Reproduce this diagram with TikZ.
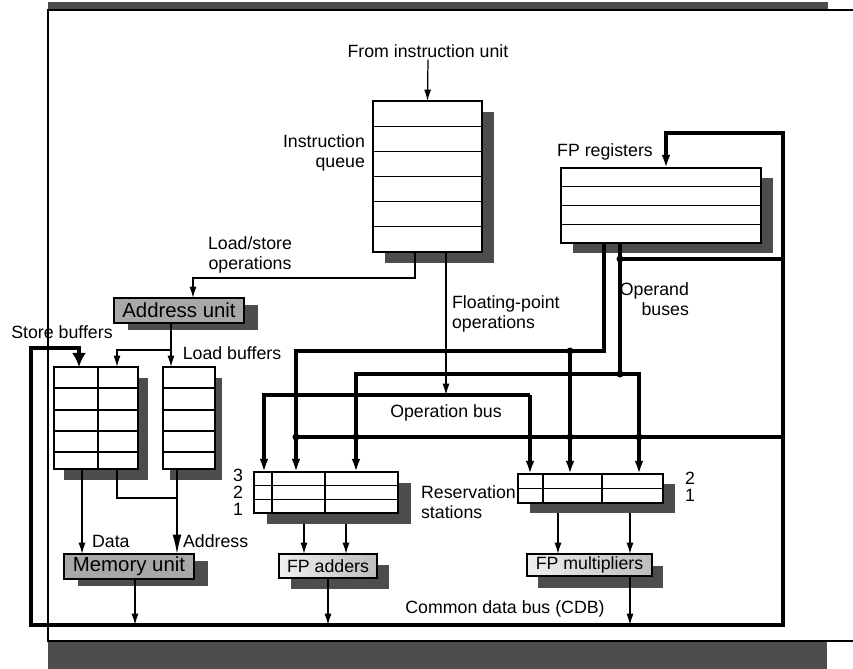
\documentclass[tikz,border=0pt]{standalone}
\usepackage{fontspec}
\setmainfont{Liberation Sans}
\usepackage{tikz}
\usetikzlibrary{calc,arrows.meta,shadows}
\definecolor{hpShadow}{RGB}{77,77,77}
\definecolor{hpUnit}{RGB}{168,168,168}

\begin{document}
\begin{tikzpicture}[x=0.02cm,y=-0.02cm,
    font=\fontsize{10.1}{11.6}\selectfont,
    boxsize/.style 2 args={minimum width=#1*0.02cm, minimum height=#2*0.02cm},
    boxshadow/.style 2 args={drop shadow={shadow xshift=#1*0.02cm, shadow yshift=-#2*0.02cm, fill=hpShadow, opacity=1}},
    unitbox/.style={draw, fill=white, line width=0.7pt, inner sep=0pt, outer sep=0pt},
    grayunit/.style={unitbox, fill=hpUnit, font=\fontsize{11.6}{13}\selectfont},
    fpunit/.style={unitbox, left color=black!6, right color=black!26},
    lbl/.style={inner sep=1pt},
    wire/.style={line width=0.7pt},
    bus/.style={line width=1.75pt},
    tipS/.style={-{Latex[length=6.5pt,width=4pt]}},
    tipB/.style={-{Latex[length=7.5pt,width=5pt]}},
    dot/.style={fill, circle, inner sep=0pt, minimum size=4pt}
  ]
  \useasboundingbox (0,0) rectangle (853,669);

  % page frame
  \fill[hpShadow] (48,2) rectangle (828,10);
  \draw[wire] (853,10) -- (48,10) -- (48,641) -- (853,641);
  \fill[hpShadow] (48,642) rectangle (827,669);

  % units
  \node[unitbox, boxsize={109}{151}, boxshadow={12}{11}] (iq) at (427.5,176.5) {};
  \node[unitbox, boxsize={200}{75}, boxshadow={12}{10}] (fpr) at (661,205.5) {};
  \node[grayunit, boxsize={130}{25}, boxshadow={14}{7}] (au) at (179,310.5) {Address unit};
  \node[unitbox, boxsize={84}{102}, boxshadow={10}{11}] (sb) at (96,418) {};
  \node[unitbox, boxsize={52}{102}, boxshadow={7}{11}] (lb) at (189,418) {};
  \node[grayunit, boxsize={130}{25}, boxshadow={14}{7}] (mu) at (129,566.5) {Memory unit};
  \node[unitbox, boxsize={144}{41}, boxshadow={13}{11}] (rsa) at (326,492.5) {};
  \node[unitbox, boxsize={145}{29}, boxshadow={12}{10}] (rsm) at (590.5,488.5) {};
  \node[fpunit, boxsize={98}{24}, boxshadow={12}{11}] (fpa) at (328,566) {FP adders};
  \node[fpunit, boxsize={125}{22}, boxshadow={11}{12}] (fpm) at (589.5,565) {FP multipliers};

  % rows and columns
  \foreach \k in {1,...,5}
    \draw[wire] ($(iq.north west)!\k/6!(iq.south west)$) -- ($(iq.north east)!\k/6!(iq.south east)$);
  \foreach \k in {1,2,3}
    \draw[wire] ($(fpr.north west)!\k/4!(fpr.south west)$) -- ($(fpr.north east)!\k/4!(fpr.south east)$);
  \foreach \d in {21,43,64,85} {
    \draw[wire] ($(sb.north west)+(0,\d)$) -- ($(sb.north east)+(0,\d)$);
    \draw[wire] ($(lb.north west)+(0,\d)$) -- ($(lb.north east)+(0,\d)$);
  }
  \draw[wire] ($(sb.north west)+(44,0)$) -- ($(sb.south west)+(44,0)$);
  \foreach \k in {1,2}
    \draw[wire] ($(rsa.north west)!\k/3!(rsa.south west)$) -- ($(rsa.north east)!\k/3!(rsa.south east)$);
  \foreach \d in {18,71}
    \draw[wire] ($(rsa.north west)+(\d,0)$) -- ($(rsa.south west)+(\d,0)$);
  \draw[wire] (rsm.west) -- (rsm.east);
  \foreach \d in {25,84}
    \draw[wire] ($(rsm.north west)+(\d,0)$) -- ($(rsm.south west)+(\d,0)$);

  % labels
  \node[lbl] (srcLabel) at (428,51) {From instruction unit};
  \node[lbl, anchor=east, align=right] (iqLabel) at (367,153) {Instruction\\queue};
  \node[lbl] (regLabel) at (605,152) {FP registers};
  \node[lbl, align=center] (lsLabel) at (250,255) {Load/store\\operations};
  \node[lbl, anchor=west, align=left] (fpLabel) at (450,314) {Floating-point\\operations};
  \node[lbl, anchor=east, align=right] (obLabel) at (691,299) {Operand\\buses};
  \node[lbl] (sbLabel) at (62,332) {Store buffers};
  \node[lbl] (lbLabel) at (232,353) {Load buffers};
  \node[lbl] (opLabel) at (446,413) {Operation bus};
  \node[lbl, anchor=west, align=left] (rsLabel) at (419,502) {Reservation\\stations};
  \node[lbl] (ra3) at (238,475) {3};
  \node[lbl] (ra2) at (238,492) {2};
  \node[lbl] (ra1) at (238,509) {1};
  \node[lbl] (rm2) at (690,478) {2};
  \node[lbl] (rm1) at (690,495) {1};
  \node[lbl, anchor=west] (dataLabel) at (90,541) {Data};
  \node[lbl, anchor=west] (addrLabel) at (181,541) {Address};
  \node[lbl] (cdbLabel) at (505,609) {Common data bus (CDB)};

  % instruction queue in and out
  \draw[wire, tipS] (srcLabel.south) -- (iq.north);
  \coordinate (lsOut) at ($(iq.south)+(-12.5,0)$);
  \coordinate (fpOut) at ($(iq.south)+(18.5,0)$);
  \draw[wire, tipS] (lsOut) -- ++(0,26) -| ($(au.north)+(14,0)$);

  % operation bus
  \coordinate (opL) at (264,395);
  \coordinate (opR) at (530,395);
  \draw[wire, tipS] (fpOut) -- (fpOut |- opL);
  \draw[bus, tipB] (opR) -- (opL) -- (opL |- rsa.north);
  \draw[bus, tipB] (opR) -- (opR |- rsm.north);

  % operand buses
  \coordinate (regOut1) at ($(fpr.south)+(-57,0)$);
  \coordinate (regOut2) at ($(fpr.south)+(-41,0)$);
  \coordinate (b1L) at (296,351);
  \coordinate (b1M) at (570,351);
  \coordinate (b2L) at (356,374);
  \coordinate (b2J) at (620,374);
  \coordinate (b2R) at (639,374);
  \coordinate (regTap) at (620,259);
  \draw[bus, tipB] (regOut1) |- (b1L) -- (b1L |- rsa.north);
  \draw[bus, tipB] (b1M) -- (b1M |- rsm.north);
  \draw[bus] (regOut2) -- (b2J);
  \draw[bus, tipB] (b2J) -- (b2L) -- (b2L |- rsa.north);
  \draw[bus, tipB] (b2J) -- (b2R) -- (b2R |- rsm.north);

  % common data bus
  \coordinate (cdbTR) at (783,133);
  \coordinate (cdbBR) at (783,625);
  \coordinate (cdbBL) at (31,625);
  \coordinate (cdbTL) at (31,348);
  \coordinate (cdbMid) at (783,437);
  \draw[bus, {Latex[length=8pt,width=8pt]}-{Latex[length=7.5pt,width=5pt]}]
    ($(sb.north)+(-17,0)$) |- (cdbTL) -- (cdbBL) -- (cdbBR) -- (cdbTR) -| ($(fpr.north)+(5,0)$);
  \draw[bus] (cdbMid) -- (b1L |- cdbMid);
  \draw[bus] (regTap) -- (regTap -| cdbTR);
  \node[dot] (tapDot) at (regTap) {};
  \node[dot] (b1Dot) at (b1M) {};
  \node[dot] (b2Dot) at (b2J) {};
  \foreach \c in {b1L,b2L,b1M,b2R}
    \node[dot] at (\c |- cdbMid) {};

  % memory side
  \coordinate (auOut) at ($(au.south)+(-8,0)$);
  \coordinate (auFork) at ($(au.south)+(-8,27)$);
  \draw[wire, tipS] (auOut) -- (auOut |- lb.north);
  \draw[wire, tipS] (auFork) -| ($(sb.north)+(21,0)$);
  \draw[wire, tipS] ($(sb.south)+(-14,0)$) coordinate (dataTop) -- (dataTop |- mu.north);
  \draw[wire] ($(sb.south)+(21,0)$) |- ($(lb.south)+(-12,29)$);
  \draw[wire, -{Latex[length=11pt,width=5pt]}] ($(lb.south)+(-12,0)$) coordinate (addrTop) -- (addrTop |- mu.north);
  \draw[wire, tipS] ($(mu.south)+(6,0)$) coordinate (muOut) -- (muOut |- cdbBL);

  % functional units
  \draw[wire, tipS] ($(rsa.south)+(-22,11)$) coordinate (a1) -- (a1 |- fpa.north);
  \draw[wire, tipS] ($(rsa.south)+(20,11)$) coordinate (a2) -- (a2 |- fpa.north);
  \draw[wire, tipS] ($(rsm.south)+(-32.5,10)$) coordinate (m1) -- (m1 |- fpm.north);
  \draw[wire, tipS] ($(rsm.south)+(39.5,10)$) coordinate (m2) -- (m2 |- fpm.north);
  \draw[wire, tipS] (fpa.south) -- (fpa.south |- cdbBL);
  \draw[wire, tipS] ($(fpm.south)+(40.5,0)$) coordinate (fmOut) -- (fmOut |- cdbBL);
\end{tikzpicture}
\end{document}
